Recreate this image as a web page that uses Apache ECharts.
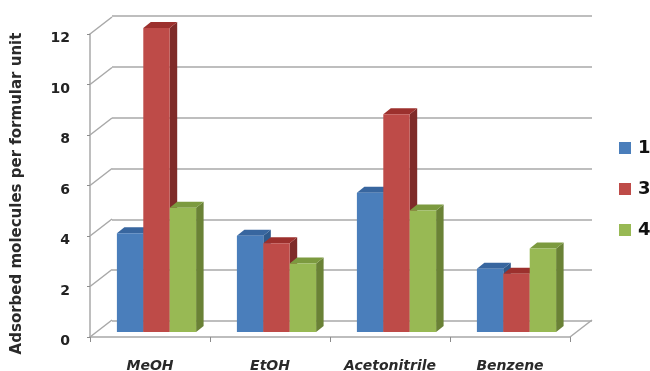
<!DOCTYPE html>
<html>
<head>
<meta charset="utf-8">
<style>
  html, body { margin: 0; padding: 0; background: #fff; overflow: hidden; }
  #chart { width: 650px; height: 371px; }
</style>
<script src="https://cdn.jsdelivr.net/npm/echarts@6/dist/echarts.min.js"></script>
</head>
<body>
<div id="chart"></div>
<script>
// values
const solvents = ['MeOH', 'EtOH', 'Acetonitrile', 'Benzene'];
const seriesNames = ['1', '3', '4'];
const series1 = [3.9, 3.8, 5.5, 2.5];
const series3 = [12, 3.5, 8.6, 2.3];
const series4 = [4.9, 2.7, 4.8, 3.3];
const yTicks = [0, 2, 4, 6, 8, 10, 12];

const faces = [
  { front: '#4a7ebb', top: '#38669f', side: '#2f5a8c' },
  { front: '#be4b48', top: '#9c302d', side: '#7f2b29' },
  { front: '#98b954', top: '#7c9a3f', side: '#6a8236' }
];
const depthX = 7.5;
const depthY = 6;
const barShare = 0.22;
const wallX = 22;
const wallY = 17;
const lineGrey = '#a8a8a8';
const font = '"DejaVu Sans", sans-serif';

const myChart = echarts.init(document.getElementById('chart'));

function poly(points, fill) {
  return { type: 'polygon', shape: { points: points }, style: { fill: fill } };
}

function barRenderer(seriesIdx) {
  return function (params, api) {
    const c = api.coord([api.value(0), api.value(1)]);
    const base = api.coord([api.value(0), 0])[1];
    const w = api.size([1, 0])[0] * barShare;
    const x0 = c[0] + (seriesIdx - 1.5) * w;
    const x1 = x0 + w;
    const y = c[1];
    const f = faces[seriesIdx];
    return {
      type: 'group',
      children: [
        poly([[x1, y], [x1 + depthX, y - depthY], [x1 + depthX, base - depthY], [x1, base]], f.side),
        poly([[x0, y], [x0 + depthX, y - depthY], [x1 + depthX, y - depthY], [x1, y]], f.top),
        poly([[x0, y], [x1, y], [x1, base], [x0, base]], f.front)
      ]
    };
  };
}

function wallRenderer(params, api) {
  const y = api.coord([0, api.value(0)])[1];
  const x = params.coordSys.x;
  const lines = [{
    type: 'line',
    shape: { x1: x, y1: y, x2: x + wallX, y2: y - wallY },
    style: { stroke: lineGrey, lineWidth: 1.5 }
  }];
  if (api.value(0) === 0) {
    const xr = x + params.coordSys.width;
    lines.push({
      type: 'line',
      shape: { x1: xr, y1: y, x2: xr + wallX, y2: y - wallY },
      style: { stroke: lineGrey, lineWidth: 1.5 }
    });
  }
  return { type: 'group', children: lines };
}

const option = {
  backgroundColor: '#fff',
  animation: false,
  legend: {
    data: seriesNames,
    orient: 'vertical',
    left: 614,
    top: 134,
    icon: 'rect',
    itemWidth: 12,
    itemHeight: 12,
    itemGap: 23,
    selectedMode: false,
    textStyle: { fontFamily: font, fontWeight: 'bold', fontSize: 18, lineHeight: 16, color: '#111', padding: [0, 0, 0, 2] }
  },
  grid: [
    { left: 90, top: 34, width: 480, height: 303, outerBoundsMode: 'none' },   // front plane: axes and labels
    { left: 112, top: 16, width: 480, height: 305, outerBoundsMode: 'none' },  // back wall: gridlines
    { left: 96.5, top: 28, width: 480, height: 304, outerBoundsMode: 'none' }  // plane the bars stand on
  ],
  xAxis: [
    {
      type: 'category', gridIndex: 0, data: solvents,
      axisLine: { lineStyle: { color: lineGrey, width: 1.5 } },
      axisTick: { show: true, length: 5, lineStyle: { color: '#8c8c8c' } },
      axisLabel: { margin: 22, fontFamily: font, fontStyle: 'italic', fontWeight: 'bold', fontSize: 14, color: '#2a2a2a' }
    },
    { type: 'category', gridIndex: 1, data: solvents, show: false },
    { type: 'category', gridIndex: 2, data: solvents, show: false }
  ],
  yAxis: [
    {
      type: 'value', gridIndex: 0, min: 0, max: 12, interval: 2,
      name: 'Adsorbed molecules per formular unit',
      nameLocation: 'middle',
      nameGap: 65,
      nameTextStyle: { fontFamily: font, fontWeight: 'bold', fontSize: 15, color: '#2a2a2a', padding: [0, 16, 0, 0] },
      axisLine: { show: true, lineStyle: { color: lineGrey, width: 1.5 } },
      axisTick: { show: true, length: 3, lineStyle: { color: '#8c8c8c' } },
      splitLine: { show: false },
      axisLabel: { margin: 20, verticalAlign: 'top', lineHeight: 9, fontFamily: font, fontWeight: 'bold', fontSize: 14, color: '#222' }
    },
    {
      type: 'value', gridIndex: 1, min: 0, max: 12, interval: 2,
      axisLine: { show: false }, axisTick: { show: false }, axisLabel: { show: false },
      splitLine: { show: true, lineStyle: { color: lineGrey, width: 1.5 } }
    },
    { type: 'value', gridIndex: 2, min: 0, max: 12, interval: 2, show: false, splitLine: { show: false } }
  ],
  series: [
    {
      type: 'custom', name: 'walls', xAxisIndex: 0, yAxisIndex: 0, silent: true,
      renderItem: wallRenderer,
      encode: { y: 0 },
      data: yTicks.map(v => [v])
    }
  ].concat([series1, series3, series4].map((vals, i) => ({
    type: 'custom',
    name: seriesNames[i],
    xAxisIndex: 2,
    yAxisIndex: 2,
    itemStyle: { color: faces[i].front },
    renderItem: barRenderer(i),
    encode: { x: 0, y: 1 },
    data: vals.map((v, j) => [j, v])
  })))
};

myChart.setOption(option);
</script>
</body>
</html>
